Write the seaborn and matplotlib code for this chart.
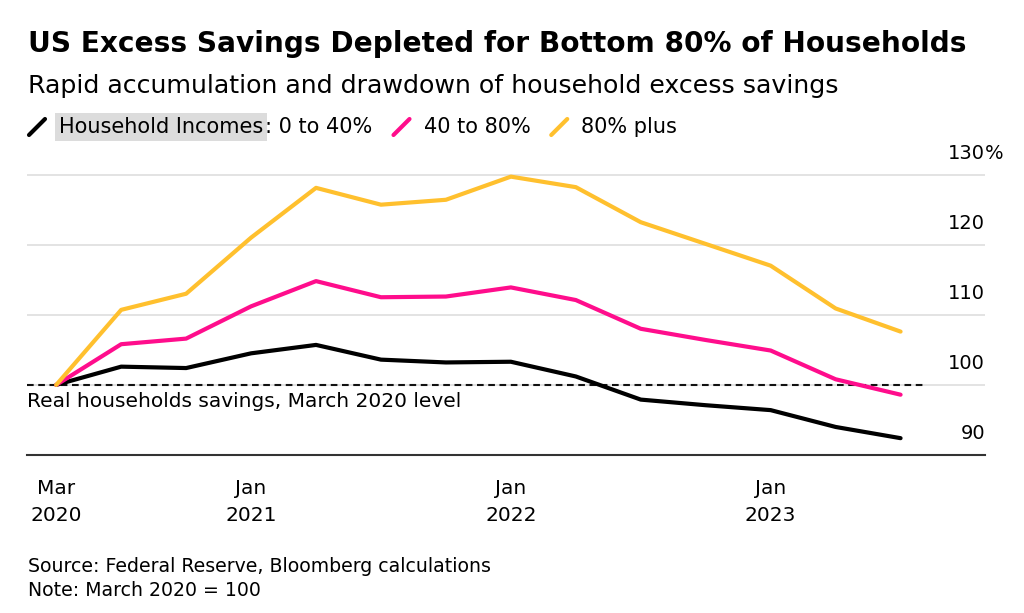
import matplotlib
matplotlib.use("Agg")
import matplotlib.pyplot as plt
from matplotlib.lines import Line2D
import matplotlib.transforms as mtransforms
import seaborn as sns
import pandas as pd

# quarterly points, index 0 = March 2020
quarters = list(range(14))
low_income = [100, 102.6, 102.4, 104.5, 105.7, 103.6, 103.2, 103.3, 101.2, 97.9, 97.1, 96.4, 94.0, 92.4]
mid_income = [100, 105.8, 106.6, 111.2, 114.8, 112.5, 112.6, 113.9, 112.1, 108.0, 106.4, 104.9, 100.8, 98.6]
top_income = [100, 110.7, 113.0, 121.0, 128.1, 125.7, 126.4, 129.7, 128.2, 123.2, 120.1, 117.0, 110.9, 107.6]
series_names = ["0 to 40%", "40 to 80%", "80% plus"]
colors = ["#000000", "#ff0d8c", "#ffc02e"]

xtick_pos = [0, 3, 7, 11]
xtick_labels = ["Mar\n2020", "Jan\n2021", "Jan\n2022", "Jan\n2023"]
ytick_vals = [90, 100, 110, 120, 130]

df = pd.DataFrame({
    "quarter": quarters * 3,
    "value": low_income + mid_income + top_income,
    "group": [series_names[0]] * 14 + [series_names[1]] * 14 + [series_names[2]] * 14,
})

sns.set_style("white")
plt.rcParams["font.family"] = ["DejaVu Sans"]
plt.rcParams["text.color"] = "black"
plt.rcParams["xtick.color"] = "black"

W, H = 1024, 613
fig = plt.figure(figsize=(W / 100, H / 100), dpi=100)
ax = fig.add_axes([27 / W, 1 - 455 / H, (985 - 27) / W, (455 - 157) / H])

# gridlines first, under the data
for v in ytick_vals[1:]:
    ax.axhline(v, color="#dedede", lw=1.2, zorder=0)
ax.hlines(100, -0.45, 13.35, colors="#111111", linestyles=(0, (3.2, 2.2)), lw=1.5, zorder=1)

sns.lineplot(data=df, x="quarter", y="value", hue="group", palette=colors,
             hue_order=series_names, lw=3, legend=False, ax=ax, zorder=3,
             solid_capstyle="round", solid_joinstyle="round")

ax.set_xlim(-0.45, 14.3)
ax.set_ylim(90, 132.5)
ax.set_xlabel("")
ax.set_ylabel("")
ax.set_yticks([])
ax.set_xticks(xtick_pos)
ax.set_xticklabels(xtick_labels, fontsize=14.5, linespacing=1.55)
ax.tick_params(axis="x", length=7, width=1, color="#333333", pad=10)
for s in ["top", "right", "left"]:
    ax.spines[s].set_visible(False)
ax.spines["bottom"].set_color("#333333")
ax.spines["bottom"].set_linewidth(1.5)

# right-side value labels sitting above the gridlines
trans = mtransforms.blended_transform_factory(ax.transAxes, ax.transData)
for v in ytick_vals:
    ax.text(1.0, v + 1.7, str(v), transform=trans, ha="right", va="bottom", fontsize=14)
ax.text(1.0, ytick_vals[-1] + 1.7, "%", transform=trans, ha="left", va="bottom", fontsize=14)

ax.text(0.0, 97.6, "Real households savings, March 2020 level", transform=trans,
        ha="left", va="center", fontsize=14.5)

# titles
fig.text(28 / W, 1 - 44 / H, "US Excess Savings Depleted for Bottom 80% of Households",
         fontsize=20.2, fontweight="bold", va="center", ha="left")
fig.text(28 / W, 1 - 86 / H, "Rapid accumulation and drawdown of household excess savings",
         fontsize=18.2, va="center", ha="left")

# legend row
fig.canvas.draw()
renderer = fig.canvas.get_renderer()
ly = 1 - 127 / H
x = 28
items = [("Household Incomes", colors[0], True), (series_names[0], None, False),
         (series_names[1], colors[1], False), (series_names[2], colors[2], False)]
for label, col, boxed in items:
    if col is not None:
        fig.add_artist(Line2D([(x + 1) / W, (x + 17) / W], [ly - 8 / H, ly + 8 / H],
                              color=col, lw=3, transform=fig.transFigure))
        x += 31
    if boxed:
        t = fig.text(x / W, ly, label, fontsize=15, va="center", ha="left",
                     bbox=dict(facecolor="#dcdcdc", edgecolor="none", pad=2.5))
    elif label == series_names[0]:
        t = fig.text(x / W, ly, ": " + label, fontsize=15, va="center", ha="left")
    else:
        t = fig.text(x / W, ly, label, fontsize=15, va="center", ha="left")
    bb = t.get_window_extent(renderer)
    x = bb.x1 + (2 if boxed else 20)

fig.text(28 / W, 1 - 567 / H, "Source: Federal Reserve, Bloomberg calculations",
         fontsize=13.6, va="center", ha="left")
fig.text(28 / W, 1 - 591 / H, "Note: March 2020 = 100", fontsize=13.6, va="center", ha="left")

fig.savefig("out.png", dpi=100, facecolor="white")
